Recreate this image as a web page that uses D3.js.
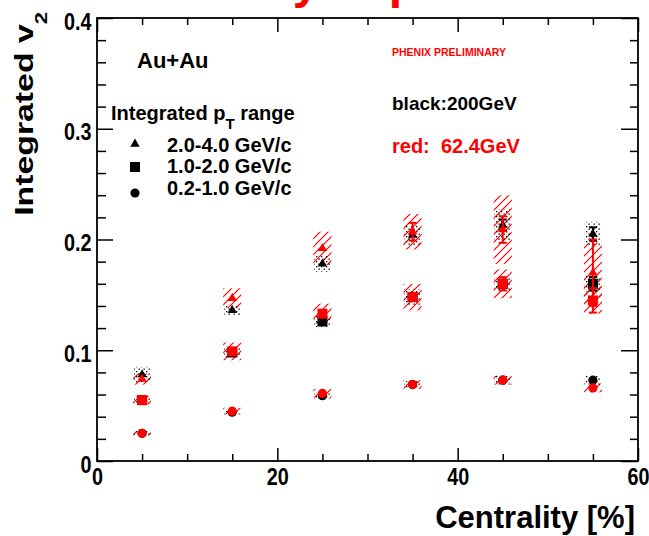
<!DOCTYPE html>
<html>
<head>
  <meta charset="utf-8">
  <title>Integrated v2 vs centrality</title>
  <script src="https://cdn.jsdelivr.net/npm/d3@7"></script>
  <style>
    body { margin: 0; background: #fff; }
    text { font-family: "Liberation Sans", Arial, sans-serif; font-weight: bold; }
    .tick text { font-family: "Liberation Sans", Arial, sans-serif; font-size: 22px; font-weight: bold; }
  </style>
</head>
<body>
<script>
  const w = 649;
  const h = 536;

  // centrality bins (%)
  const centrality = [5, 15, 25, 35, 45, 55];

  // 200 GeV (black)
  const tri200 = [0.078, 0.136, 0.178, 0.204, 0.213, 0.205];
  const sq200 = [0.055, 0.098, 0.126, 0.148, 0.160, 0.160];
  const circ200 = [0.025, 0.044, 0.059, 0.069, 0.073, 0.073];
  const triSys200 = [0.007, 0.005, 0.007, 0.009, 0.014, 0.011];
  const sqSys200 = [0.003, 0.004, 0.005, 0.007, 0.006, 0.007];
  const circSys200 = [0.002, 0.002, 0.003, 0.003, 0.004, 0.004];
  const triStat200 = [0.002, 0.002, 0.003, 0.004, 0.005, 0.006];
  const sqStat200 = [0.001, 0.001, 0.002, 0.002, 0.003, 0.006];
  const circStat200 = [0.001, 0.001, 0.001, 0.001, 0.002, 0.002];

  // 62.4 GeV (red)
  const tri62 = [0.074, 0.147, 0.192, 0.207, 0.209, 0.170];
  const sq62 = [0.055, 0.099, 0.133, 0.148, 0.160, 0.145];
  const circ62 = [0.025, 0.045, 0.061, 0.069, 0.073, 0.066];
  const triSys62 = [0.005, 0.009, 0.015, 0.016, 0.031, 0.027];
  const sqSys62 = [0.004, 0.008, 0.009, 0.012, 0.013, 0.012];
  const circSys62 = [0.002, 0.003, 0.004, 0.004, 0.004, 0.004];
  const triStat62 = [0.003, 0.003, 0.004, 0.008, 0.012, 0.030];
  const sqStat62 = [0.002, 0.002, 0.003, 0.004, 0.006, 0.011];
  const circStat62 = [0.001, 0.001, 0.002, 0.002, 0.003, 0.004];

  // axis ticks
  const xMajor = [0, 20, 40, 60];
  const xMinor = [5, 10, 15, 25, 30, 35, 45, 50, 55];
  const yMajor = [0, 0.1, 0.2, 0.3, 0.4];
  const yMinor = [0.02, 0.04, 0.06, 0.08, 0.12, 0.14, 0.16, 0.18, 0.22, 0.24, 0.26, 0.28, 0.32, 0.34, 0.36, 0.38];

  // legend
  const legendLabels = ["2.0-4.0 GeV/c", "1.0-2.0 GeV/c", "0.2-1.0 GeV/c"];
  const shapes = [d3.symbolTriangle, d3.symbolSquare, d3.symbolCircle];
  const shapeSizes = [38, 100, 66];

  const xScale = d3.scaleLinear().domain([0, 60]).range([97, 638]);
  const yScale = d3.scaleLinear().domain([0, 0.4]).range([461, 18]);

  const svg = d3.select("body").append("svg")
    .attr("width", w)
    .attr("height", h);

  // patterns for systematic boxes
  const defs = svg.append("defs");
  const hatch = defs.append("pattern")
    .attr("id", "hatch")
    .attr("patternUnits", "userSpaceOnUse")
    .attr("width", 8).attr("height", 8);
  hatch.append("path")
    .attr("d", "M-1,1 l2,-2 M0,8 l8,-8 M7,9 l2,-2")
    .attr("stroke", "#ff0000")
    .attr("stroke-width", 1.2);
  const dots = defs.append("pattern")
    .attr("id", "dots")
    .attr("patternUnits", "userSpaceOnUse")
    .attr("width", 5).attr("height", 5);
  dots.append("rect").attr("x", 1).attr("y", 1).attr("width", 1.3).attr("height", 1.3).attr("fill", "#000");
  dots.append("rect").attr("x", 3.5).attr("y", 3.5).attr("width", 1.3).attr("height", 1.3).attr("fill", "#000");

  // cut-off title at the very top
  svg.append("text")
    .attr("x", 98).attr("y", -2)
    .attr("fill", "#ff0000")
    .style("font-size", "48px")
    .text("Centrality dependence");

  // series tables built from the arrays
  const series200 = [
    { vals: tri200, sys: triSys200, stat: triStat200, shape: 0 },
    { vals: sq200, sys: sqSys200, stat: sqStat200, shape: 1 },
    { vals: circ200, sys: circSys200, stat: circStat200, shape: 2 }
  ];
  const series62 = [
    { vals: tri62, sys: triSys62, stat: triStat62, shape: 0 },
    { vals: sq62, sys: sqSys62, stat: sqStat62, shape: 1 },
    { vals: circ62, sys: circSys62, stat: circStat62, shape: 2 }
  ];

  function points(series) {
    const out = [];
    series.forEach(s => {
      s.vals.forEach((v, i) => {
        out.push({ c: centrality[i], v: v, sys: s.sys[i], stat: s.stat[i], shape: s.shape });
      });
    });
    return out;
  }
  const pts200 = points(series200);
  const pts62 = points(series62);

  // systematic boxes: red hatched, then black dotted
  function boxes(data, fill, hw) {
    svg.append("g").selectAll("rect")
      .data(data)
      .enter()
      .append("rect")
      .attr("x", d => xScale(d.c - hw))
      .attr("width", d => xScale(d.c + hw) - xScale(d.c - hw))
      .attr("y", d => yScale(d.v + d.sys))
      .attr("height", d => yScale(d.v - d.sys) - yScale(d.v + d.sys))
      .attr("fill", fill);
  }
  boxes(pts62, "url(#hatch)", 1.0);
  boxes(pts200, "url(#dots)", 0.9);

  function markers(data, color) {
    const g = svg.append("g");
    const bars = g.selectAll("g.err")
      .data(data.filter(d => d.stat > 0.004))
      .enter()
      .append("g");
    bars.append("line")
      .attr("x1", d => xScale(d.c)).attr("x2", d => xScale(d.c))
      .attr("y1", d => yScale(d.v + d.stat)).attr("y2", d => yScale(d.v - d.stat))
      .attr("stroke", color).attr("stroke-width", 2);
    [1, -1].forEach(sgn => {
      bars.append("line")
        .attr("x1", d => xScale(d.c) - 4).attr("x2", d => xScale(d.c) + 4)
        .attr("y1", d => yScale(d.v + sgn * d.stat)).attr("y2", d => yScale(d.v + sgn * d.stat))
        .attr("stroke", color).attr("stroke-width", 2);
    });
    g.selectAll("path")
      .data(data)
      .enter()
      .append("path")
      .attr("transform", d => `translate(${xScale(d.c)},${yScale(d.v)})`)
      .attr("d", d => d3.symbol().type(shapes[d.shape]).size(shapeSizes[d.shape])())
      .attr("fill", color);
  }
  markers(pts200, "#000");
  markers(pts62, "#ff0000");

  // axes (ticks inside the frame, ROOT style)
  const fmtY = d => d === 0 ? "0" : d.toFixed(1);
  const axBottom = svg.append("g").attr("transform", "translate(0,461)");
  axBottom.call(d3.axisBottom(xScale).tickValues(xMajor).tickSize(-13).tickPadding(6).tickFormat(d3.format("d")));
  axBottom.append("g").call(d3.axisBottom(xScale).tickValues(xMinor).tickSize(-7).tickFormat(""));
  const axTop = svg.append("g").attr("transform", "translate(0,18)");
  axTop.call(d3.axisTop(xScale).tickValues(xMajor).tickSize(-14).tickFormat(""));
  axTop.append("g").call(d3.axisTop(xScale).tickValues(xMinor).tickSize(-7).tickFormat(""));
  const axLeft = svg.append("g").attr("transform", "translate(97,0)");
  axLeft.call(d3.axisLeft(yScale).tickValues(yMajor).tickSize(-16).tickPadding(6).tickFormat(fmtY));
  axLeft.append("g").call(d3.axisLeft(yScale).tickValues(yMinor).tickSize(-9).tickFormat(""));
  const axRight = svg.append("g").attr("transform", "translate(638,0)");
  axRight.call(d3.axisRight(yScale).tickValues(yMajor).tickSize(-17).tickFormat(""));
  axRight.append("g").call(d3.axisRight(yScale).tickValues(yMinor).tickSize(-8).tickFormat(""));
  svg.selectAll(".domain").remove();
  svg.selectAll(".tick line").attr("stroke", "#000").attr("stroke-width", 1.5);
  axLeft.selectAll(".tick text").attr("dy", "0.45em");
  // labels in the reference look narrow and tall
  svg.selectAll(".tick text").attr("fill", "#000").attr("transform", "scale(0.9,1.12)");

  // frame
  svg.append("rect")
    .attr("x", 97).attr("y", 18)
    .attr("width", 638 - 97).attr("height", 461 - 18)
    .attr("fill", "none").attr("stroke", "#000").attr("stroke-width", 1.8);

  // axis titles
  svg.append("text")
    .attr("x", 635).attr("y", 528)
    .attr("text-anchor", "end")
    .style("font-size", "31px")
    .text("Centrality [%]");

  const yTitle = svg.append("text")
    .attr("transform", "translate(33,12) rotate(-90) scale(1.3,1)")
    .attr("text-anchor", "end")
    .style("font-size", "26px");
  yTitle.append("tspan").text("Integrated v");
  yTitle.append("tspan").attr("dy", 14).style("font-size", "17px").text("2");

  // annotations
  svg.append("text").attr("x", 137).attr("y", 68).style("font-size", "22px").text("Au+Au");

  const legTitle = svg.append("text").attr("x", 111).attr("y", 120).style("font-size", "20px");
  legTitle.append("tspan").text("Integrated p");
  legTitle.append("tspan").attr("dy", 9).style("font-size", "15px").text("T");
  legTitle.append("tspan").attr("dy", -9).text(" range");

  const legY = [144, 167, 193];
  const legBase = [152, 173, 195];
  legendLabels.forEach((lab, i) => {
    svg.append("path")
      .attr("transform", `translate(135,${legY[i]})`)
      .attr("d", d3.symbol().type(shapes[i]).size(shapeSizes[i])())
      .attr("fill", "#000");
    svg.append("text").attr("x", 167).attr("y", legBase[i]).style("font-size", "20px").text(lab);
  });

  svg.append("text").attr("x", 392).attr("y", 56)
    .attr("fill", "#ff0000").style("font-size", "10.5px").text("PHENIX PRELIMINARY");
  svg.append("text").attr("x", 392).attr("y", 110)
    .attr("fill", "#000").style("font-size", "19px").style("font-weight", "600").text("black:200GeV");
  svg.append("text").attr("x", 392).attr("y", 153)
    .attr("fill", "#ff0000").style("font-size", "20px").style("white-space", "pre").text("red:  62.4GeV");
</script>
</body>
</html>
